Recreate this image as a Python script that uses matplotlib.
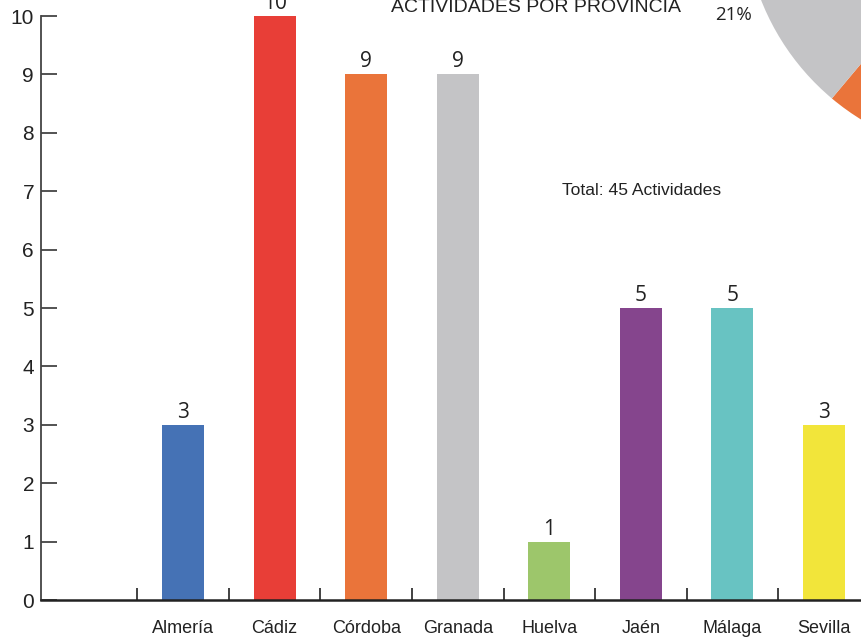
import matplotlib
matplotlib.use("Agg")
import matplotlib.pyplot as plt

# data
provincias = ["Almería", "Cádiz", "Córdoba", "Granada", "Huelva", "Jaén", "Málaga", "Sevilla"]
actividades = [3, 10, 9, 9, 1, 5, 5, 3]
colores = ["#4572b5", "#e83e37", "#ea743a", "#c4c4c6", "#9dc66b", "#85458d", "#68c3c2", "#f2e53a"]
titulo = "ACTIVIDADES POR PROVINCIA"
total_txt = "Total: 45 Actividades"
pct_txt = "21%"

plt.rcParams['font.family'] = ['Liberation Sans', 'DejaVu Sans']

W, H = 861, 639
fig = plt.figure(figsize=(W / 100, H / 100), dpi=100)
ax = fig.add_axes([41 / W, 39 / H, 1 - 41 / W, 584 / H])

pos = list(range(1, len(provincias) + 1))
ax.bar(pos, actividades, width=0.46, color=colores, zorder=2)

for x, v in zip(pos, actividades):
    ax.annotate(str(v), (x, v), xytext=(0, 5), textcoords="offset points",
                ha="center", va="baseline", fontsize=15, family="Open Sans",
                color="#222222", annotation_clip=False)

ax.set_xlim(-0.552, 8.405)
ax.set_ylim(0, 10)

ax.spines["top"].set_visible(False)
ax.spines["right"].set_visible(False)
ax.spines["left"].set_color("#444444")
ax.spines["left"].set_linewidth(1.3)
ax.spines["bottom"].set_color("#222222")
ax.spines["bottom"].set_linewidth(1.8)

ax.set_yticks(range(0, 11))
ax.tick_params(axis="y", direction="in", length=11.5, width=1.3, color="#444444",
               labelsize=15, pad=5, labelcolor="#222222")

ax.set_xticks([p + 0.5 for p in range(0, 8)])
ax.set_xticklabels([])
ax.tick_params(axis="x", which="major", direction="in", length=9, width=1.3, color="#333333")
ax.set_xticks(pos, provincias, minor=True)
ax.tick_params(axis="x", which="minor", length=0, pad=14.5, labelsize=13, labelcolor="#222222")

fig.text(536 / W, 1 - 7 / H, titulo, ha="center", va="center", fontsize=14, color="#222222")
fig.text(642 / W, 1 - 190 / H, total_txt, ha="center", va="center", fontsize=12.6, color="#222222")

# pie partly outside the figure (top right)
cx, cy, R = 990, H + 90, 246
pax = fig.add_axes([(cx - R) / W, (cy - R) / H, 2 * R / W, 2 * R / H])
pax.pie(actividades, colors=colores, startangle=46, counterclock=False, radius=1)
pax.set_xlim(-1, 1)
pax.set_ylim(-1, 1)
pax.axis("off")

fig.text(733 / W, 1 - 15 / H, pct_txt, ha="center", va="center", fontsize=13.5,
         family="Open Sans", color="#222222")

fig.savefig("out.png", dpi=100)
